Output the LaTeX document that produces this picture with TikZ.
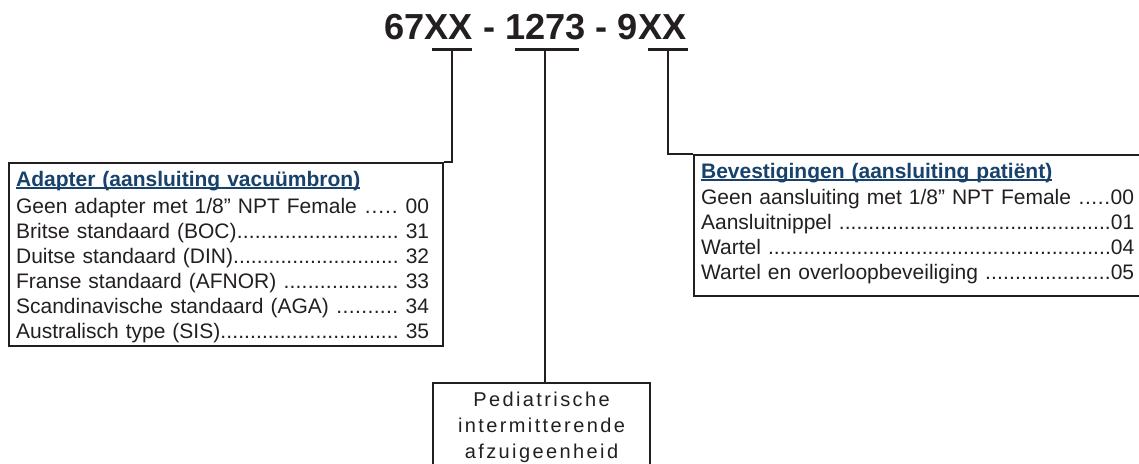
\documentclass[tikz,border=0pt]{standalone}
\usepackage{fontspec}
\setmainfont{Liberation Sans}
\newfontfamily\spacedfont[LetterSpace=12]{Liberation Sans}
\definecolor{ink}{HTML}{231F20}
\definecolor{navy}{HTML}{17426B}
\newcommand{\hdr}[1]{\hbox{\bfseries\color{navy}\setbox0\hbox{#1}\rlap{\rule[-2.6pt]{\wd0}{1.7pt}}\box0}}
\newcommand{\entryrow}[3]{\hbox to #1{#2\xleaders\hbox{.}\hfill#3}}
\begin{document}
\begin{tikzpicture}[x=1pt,y=-1pt,color=ink,
  bar/.style={line width=3pt},
  conn/.style={line width=2pt},
  listbox/.style={draw, line width=2.2pt, anchor=north west, inner xsep=7pt, inner ysep=7pt,
    text height=16pt, font=\fontsize{21}{25}\selectfont},
  pedbox/.style={draw, line width=2.2pt, anchor=north, align=center, text width=203pt,
    inner xsep=7pt, inner ysep=10pt, text height=13.5pt, text depth=80pt,
    font=\spacedfont\fontsize{20}{25.8}\selectfont}]
\useasboundingbox (0,0) rectangle (1139,463);
\clip (0,0) rectangle (1139,463);

% title
\node[anchor=base, inner sep=0, font=\bfseries\fontsize{36.2}{40}\selectfont] (title) at (535.5,39) {67XX - 1273 - 9XX};

% underline bars
\coordinate (b1l) at (432,49); \coordinate (b1) at (452,49); \coordinate (b1r) at (472,49);
\coordinate (b2l) at (515,49); \coordinate (b2) at (545,49); \coordinate (b2r) at (579,49);
\coordinate (b3l) at (648,49); \coordinate (b3) at (668,49); \coordinate (b3r) at (688,49);
\draw[bar] (b1l) -- (b1r);
\draw[bar] (b2l) -- (b2r);
\draw[bar] (b3l) -- (b3r);

% left box
\node[listbox, text width=420pt, text depth=153pt] (adapter) at (8,162) {%
\hdr{Adapter (aansluiting vacuümbron)}\vspace{2pt}
\entryrow{413pt}{Geen adapter met 1/8” NPT Female\ }{\ 00}
\entryrow{413pt}{Britse standaard (BOC)}{\ 31}
\entryrow{413pt}{Duitse standaard (DIN)}{\ 32}
\entryrow{413pt}{Franse standaard (AFNOR)\ }{\ 33}
\entryrow{413pt}{Scandinavische standaard (AGA)\ }{\ 34}
\entryrow{413pt}{Australisch type (SIS)}{\ 35}};

% right box
\node[listbox, text width=440pt, text depth=111pt] (bev) at (693,154) {%
\hdr{Bevestigingen (aansluiting patiënt)}\vspace{1pt}
\entryrow{433pt}{Geen aansluiting met 1/8” NPT Female\ }{00}
\entryrow{433pt}{Aansluitnippel\ }{01}
\entryrow{433pt}{Wartel\ }{04}
\entryrow{433pt}{Wartel en overloopbeveiliging\ }{05}};

% bottom box
\node[pedbox] (pedi) at (541.5,382) {Pediatrische\\intermitterende\\afzuigeenheid};

% connectors
\draw[conn] (b1) |- (adapter.north east);
\draw[conn] (b2) -- (b2 |- pedi.north);
\draw[conn] (b3) |- (bev.north west);
\end{tikzpicture}
\end{document}
